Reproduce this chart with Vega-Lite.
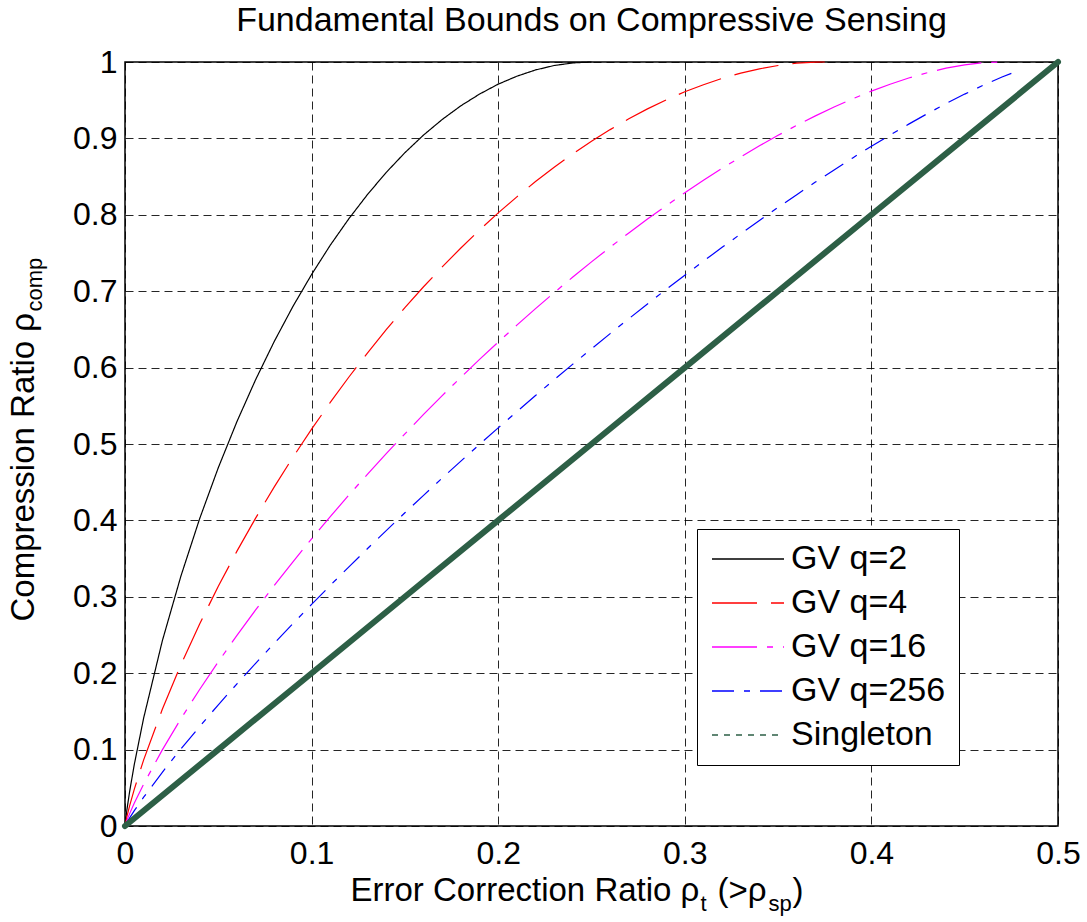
{
  "$schema": "https://vega.github.io/schema/vega-lite/v6.json",
  "width": 933,
  "height": 764,
  "autosize": {"type": "none"},
  "padding": {"left": 125, "top": 62, "right": 29, "bottom": 96},
  "background": "white",
  "title": {"text": "Fundamental Bounds on Compressive Sensing", "frame": "group", "anchor": "middle", "offset": -26, "baseline": "bottom", "fontSize": 34, "fontWeight": "normal", "font": "Liberation Sans", "color": "black"},
  "config": {
    "view": {"stroke": "black", "strokeWidth": 1.5},
    "font": "Liberation Sans",
    "axis": {"domain": false, "ticks": false, "labelFlush": false, "labelFont": "Liberation Sans", "labelFontSize": 32, "labelColor": "black", "titleFont": "Liberation Sans", "titleFontWeight": "normal", "titleColor": "black", "gridColor": "black", "gridDash": [8, 5], "gridOpacity": 0.85, "gridWidth": 1},
    "legend": {"orient": "none", "legendX": 572, "legendY": 467, "title": null, "symbolType": "M-3,0H3", "symbolSize": 576, "symbolOffset": 21, "labelOffset": 26, "symbolStrokeWidth": 1.5, "labelFontSize": 34, "labelFont": "Liberation Sans", "labelColor": "black", "labelLimit": 300, "padding": 13, "rowPadding": 10, "strokeColor": "black", "fillColor": "white", "cornerRadius": 0}
  },
  "datasets": {
    "gv": [
      {"series": "GV q=2", "x": 0, "y": 0}, {"series": "GV q=2", "x": 0.001, "y": 0.0208}, {"series": "GV q=2", "x": 0.0025, "y": 0.0454}, {"series": "GV q=2", "x": 0.005, "y": 0.0808}, {"series": "GV q=2", "x": 0.01, "y": 0.1414}, {"series": "GV q=2", "x": 0.02, "y": 0.2423}, {"series": "GV q=2", "x": 0.03, "y": 0.3274}, {"series": "GV q=2", "x": 0.04, "y": 0.4022}, {"series": "GV q=2", "x": 0.05, "y": 0.469}, {"series": "GV q=2", "x": 0.06, "y": 0.5294}, {"series": "GV q=2", "x": 0.07, "y": 0.5842}, {"series": "GV q=2", "x": 0.08, "y": 0.6343}, {"series": "GV q=2", "x": 0.09, "y": 0.6801}, {"series": "GV q=2", "x": 0.1, "y": 0.7219}, {"series": "GV q=2", "x": 0.11, "y": 0.7602}, {"series": "GV q=2", "x": 0.12, "y": 0.795}, {"series": "GV q=2", "x": 0.13, "y": 0.8267}, {"series": "GV q=2", "x": 0.14, "y": 0.8555}, {"series": "GV q=2", "x": 0.15, "y": 0.8813}, {"series": "GV q=2", "x": 0.16, "y": 0.9044}, {"series": "GV q=2", "x": 0.17, "y": 0.9248}, {"series": "GV q=2", "x": 0.18, "y": 0.9427}, {"series": "GV q=2", "x": 0.19, "y": 0.958}, {"series": "GV q=2", "x": 0.2, "y": 0.971}, {"series": "GV q=2", "x": 0.21, "y": 0.9814}, {"series": "GV q=2", "x": 0.22, "y": 0.9896}, {"series": "GV q=2", "x": 0.23, "y": 0.9954}, {"series": "GV q=2", "x": 0.24, "y": 0.9988}, {"series": "GV q=2", "x": 0.25, "y": 1.0},
      {"series": "GV q=4", "x": 0, "y": 0}, {"series": "GV q=4", "x": 0.001, "y": 0.012}, {"series": "GV q=4", "x": 0.0025, "y": 0.0267}, {"series": "GV q=4", "x": 0.005, "y": 0.0483}, {"series": "GV q=4", "x": 0.01, "y": 0.0866}, {"series": "GV q=4", "x": 0.02, "y": 0.1528}, {"series": "GV q=4", "x": 0.03, "y": 0.2113}, {"series": "GV q=4", "x": 0.04, "y": 0.2645}, {"series": "GV q=4", "x": 0.05, "y": 0.3137}, {"series": "GV q=4", "x": 0.06, "y": 0.3598}, {"series": "GV q=4", "x": 0.07, "y": 0.403}, {"series": "GV q=4", "x": 0.08, "y": 0.4439}, {"series": "GV q=4", "x": 0.09, "y": 0.4827}, {"series": "GV q=4", "x": 0.1, "y": 0.5194}, {"series": "GV q=4", "x": 0.11, "y": 0.5544}, {"series": "GV q=4", "x": 0.12, "y": 0.5877}, {"series": "GV q=4", "x": 0.13, "y": 0.6194}, {"series": "GV q=4", "x": 0.14, "y": 0.6496}, {"series": "GV q=4", "x": 0.15, "y": 0.6784}, {"series": "GV q=4", "x": 0.16, "y": 0.7058}, {"series": "GV q=4", "x": 0.17, "y": 0.7318}, {"series": "GV q=4", "x": 0.18, "y": 0.7566}, {"series": "GV q=4", "x": 0.19, "y": 0.7801}, {"series": "GV q=4", "x": 0.2, "y": 0.8025}, {"series": "GV q=4", "x": 0.21, "y": 0.8235}, {"series": "GV q=4", "x": 0.22, "y": 0.8435}, {"series": "GV q=4", "x": 0.23, "y": 0.8622}, {"series": "GV q=4", "x": 0.24, "y": 0.8798}, {"series": "GV q=4", "x": 0.25, "y": 0.8962}, {"series": "GV q=4", "x": 0.26, "y": 0.9115}, {"series": "GV q=4", "x": 0.27, "y": 0.9256}, {"series": "GV q=4", "x": 0.28, "y": 0.9386}, {"series": "GV q=4", "x": 0.29, "y": 0.9503}, {"series": "GV q=4", "x": 0.3, "y": 0.961}, {"series": "GV q=4", "x": 0.31, "y": 0.9703}, {"series": "GV q=4", "x": 0.32, "y": 0.9785}, {"series": "GV q=4", "x": 0.33, "y": 0.9855}, {"series": "GV q=4", "x": 0.34, "y": 0.9911}, {"series": "GV q=4", "x": 0.35, "y": 0.9954}, {"series": "GV q=4", "x": 0.36, "y": 0.9984}, {"series": "GV q=4", "x": 0.37, "y": 0.9998}, {"series": "GV q=4", "x": 0.375, "y": 1.0},
      {"series": "GV q=16", "x": 0, "y": 0}, {"series": "GV q=16", "x": 0.001, "y": 0.0072}, {"series": "GV q=16", "x": 0.0025, "y": 0.0162}, {"series": "GV q=16", "x": 0.005, "y": 0.03}, {"series": "GV q=16", "x": 0.01, "y": 0.0549}, {"series": "GV q=16", "x": 0.02, "y": 0.0996}, {"series": "GV q=16", "x": 0.03, "y": 0.1405}, {"series": "GV q=16", "x": 0.04, "y": 0.1787}, {"series": "GV q=16", "x": 0.05, "y": 0.2149}, {"series": "GV q=16", "x": 0.06, "y": 0.2496}, {"series": "GV q=16", "x": 0.07, "y": 0.2828}, {"series": "GV q=16", "x": 0.08, "y": 0.3149}, {"series": "GV q=16", "x": 0.09, "y": 0.3458}, {"series": "GV q=16", "x": 0.1, "y": 0.3758}, {"series": "GV q=16", "x": 0.11, "y": 0.4049}, {"series": "GV q=16", "x": 0.12, "y": 0.4332}, {"series": "GV q=16", "x": 0.13, "y": 0.4606}, {"series": "GV q=16", "x": 0.14, "y": 0.4874}, {"series": "GV q=16", "x": 0.15, "y": 0.5133}, {"series": "GV q=16", "x": 0.16, "y": 0.5387}, {"series": "GV q=16", "x": 0.17, "y": 0.5633}, {"series": "GV q=16", "x": 0.18, "y": 0.5873}, {"series": "GV q=16", "x": 0.19, "y": 0.6107}, {"series": "GV q=16", "x": 0.2, "y": 0.6334}, {"series": "GV q=16", "x": 0.21, "y": 0.6556}, {"series": "GV q=16", "x": 0.22, "y": 0.6772}, {"series": "GV q=16", "x": 0.23, "y": 0.6981}, {"series": "GV q=16", "x": 0.24, "y": 0.7185}, {"series": "GV q=16", "x": 0.25, "y": 0.7384}, {"series": "GV q=16", "x": 0.26, "y": 0.7576}, {"series": "GV q=16", "x": 0.27, "y": 0.7763}, {"series": "GV q=16", "x": 0.28, "y": 0.7944}, {"series": "GV q=16", "x": 0.29, "y": 0.8119}, {"series": "GV q=16", "x": 0.3, "y": 0.8288}, {"series": "GV q=16", "x": 0.31, "y": 0.8451}, {"series": "GV q=16", "x": 0.32, "y": 0.8608}, {"series": "GV q=16", "x": 0.33, "y": 0.8758}, {"series": "GV q=16", "x": 0.34, "y": 0.8903}, {"series": "GV q=16", "x": 0.35, "y": 0.904}, {"series": "GV q=16", "x": 0.36, "y": 0.9171}, {"series": "GV q=16", "x": 0.37, "y": 0.9295}, {"series": "GV q=16", "x": 0.38, "y": 0.9411}, {"series": "GV q=16", "x": 0.39, "y": 0.9519}, {"series": "GV q=16", "x": 0.4, "y": 0.9619}, {"series": "GV q=16", "x": 0.41, "y": 0.9709}, {"series": "GV q=16", "x": 0.42, "y": 0.979}, {"series": "GV q=16", "x": 0.43, "y": 0.986}, {"series": "GV q=16", "x": 0.44, "y": 0.9919}, {"series": "GV q=16", "x": 0.45, "y": 0.9963}, {"series": "GV q=16", "x": 0.46, "y": 0.9991}, {"series": "GV q=16", "x": 0.46875, "y": 1.0},
      {"series": "GV q=256", "x": 0, "y": 0}, {"series": "GV q=256", "x": 0.001, "y": 0.0046}, {"series": "GV q=256", "x": 0.0025, "y": 0.0107}, {"series": "GV q=256", "x": 0.005, "y": 0.0201}, {"series": "GV q=256", "x": 0.01, "y": 0.0377}, {"series": "GV q=256", "x": 0.02, "y": 0.0703}, {"series": "GV q=256", "x": 0.03, "y": 0.1009}, {"series": "GV q=256", "x": 0.04, "y": 0.1302}, {"series": "GV q=256", "x": 0.05, "y": 0.1586}, {"series": "GV q=256", "x": 0.06, "y": 0.1861}, {"series": "GV q=256", "x": 0.07, "y": 0.2129}, {"series": "GV q=256", "x": 0.08, "y": 0.2392}, {"series": "GV q=256", "x": 0.09, "y": 0.2649}, {"series": "GV q=256", "x": 0.1, "y": 0.2901}, {"series": "GV q=256", "x": 0.11, "y": 0.3149}, {"series": "GV q=256", "x": 0.12, "y": 0.3392}, {"series": "GV q=256", "x": 0.13, "y": 0.3632}, {"series": "GV q=256", "x": 0.14, "y": 0.3867}, {"series": "GV q=256", "x": 0.15, "y": 0.41}, {"series": "GV q=256", "x": 0.16, "y": 0.4328}, {"series": "GV q=256", "x": 0.17, "y": 0.4554}, {"series": "GV q=256", "x": 0.18, "y": 0.4776}, {"series": "GV q=256", "x": 0.19, "y": 0.4995}, {"series": "GV q=256", "x": 0.2, "y": 0.5211}, {"series": "GV q=256", "x": 0.21, "y": 0.5424}, {"series": "GV q=256", "x": 0.22, "y": 0.5634}, {"series": "GV q=256", "x": 0.23, "y": 0.5841}, {"series": "GV q=256", "x": 0.24, "y": 0.6045}, {"series": "GV q=256", "x": 0.25, "y": 0.6246}, {"series": "GV q=256", "x": 0.26, "y": 0.6445}, {"series": "GV q=256", "x": 0.27, "y": 0.664}, {"series": "GV q=256", "x": 0.28, "y": 0.6833}, {"series": "GV q=256", "x": 0.29, "y": 0.7023}, {"series": "GV q=256", "x": 0.3, "y": 0.721}, {"series": "GV q=256", "x": 0.31, "y": 0.7393}, {"series": "GV q=256", "x": 0.32, "y": 0.7574}, {"series": "GV q=256", "x": 0.33, "y": 0.7751}, {"series": "GV q=256", "x": 0.34, "y": 0.7926}, {"series": "GV q=256", "x": 0.35, "y": 0.8097}, {"series": "GV q=256", "x": 0.36, "y": 0.8264}, {"series": "GV q=256", "x": 0.37, "y": 0.8428}, {"series": "GV q=256", "x": 0.38, "y": 0.8588}, {"series": "GV q=256", "x": 0.39, "y": 0.8745}, {"series": "GV q=256", "x": 0.4, "y": 0.8897}, {"series": "GV q=256", "x": 0.41, "y": 0.9044}, {"series": "GV q=256", "x": 0.42, "y": 0.9187}, {"series": "GV q=256", "x": 0.43, "y": 0.9324}, {"series": "GV q=256", "x": 0.44, "y": 0.9456}, {"series": "GV q=256", "x": 0.45, "y": 0.958}, {"series": "GV q=256", "x": 0.46, "y": 0.9696}, {"series": "GV q=256", "x": 0.47, "y": 0.9803}, {"series": "GV q=256", "x": 0.475, "y": 0.9851}
    ],
    "singleton": [
      {"series": "Singleton", "x": 0, "y": 0}, {"series": "Singleton", "x": 0.05, "y": 0.1}, {"series": "Singleton", "x": 0.1, "y": 0.2}, {"series": "Singleton", "x": 0.15, "y": 0.3}, {"series": "Singleton", "x": 0.2, "y": 0.4}, {"series": "Singleton", "x": 0.25, "y": 0.5}, {"series": "Singleton", "x": 0.3, "y": 0.6}, {"series": "Singleton", "x": 0.35, "y": 0.7}, {"series": "Singleton", "x": 0.4, "y": 0.8}, {"series": "Singleton", "x": 0.45, "y": 0.9}, {"series": "Singleton", "x": 0.5, "y": 1.0}
    ]
  },
  "layer": [
    {
      "data": {"name": "gv"},
      "mark": {"type": "line", "strokeWidth": 1.2},
      "encoding": {
        "x": {"field": "x", "type": "quantitative", "scale": {"domain": [0, 0.5], "nice": false, "zero": false},
          "axis": {"orient": "bottom", "values": [0, 0.1, 0.2, 0.3, 0.4, 0.5], "format": "~g", "labelPadding": 12, "grid": true, "title": "Error Correction Ratio ρ", "titleFontSize": 33, "titleX": 225, "titleY": 74, "titleAlign": "left", "titleBaseline": "alphabetic"}},
        "y": {"field": "y", "type": "quantitative", "scale": {"domain": [0, 1], "nice": false, "zero": false},
          "axis": {"orient": "left", "values": [0, 0.1, 0.2, 0.3, 0.4, 0.5, 0.6, 0.7, 0.8, 0.9, 1], "format": "~g", "labelPadding": 8, "grid": true, "title": "Compression Ratio ρ", "titleFontSize": 33, "titleAngle": 270, "titleX": -92, "titleY": 559, "titleAlign": "left", "titleBaseline": "alphabetic"}},
        "color": {"field": "series", "type": "nominal", "scale": {"domain": ["GV q=2", "GV q=4", "GV q=16", "GV q=256", "Singleton"], "range": ["#000000", "#ff0000", "#ff00ff", "#0000ff", "#2d5f46"]}},
        "strokeDash": {"field": "series", "type": "nominal", "scale": {"domain": ["GV q=2", "GV q=4", "GV q=16", "GV q=256", "Singleton"], "range": [[1, 0], [45, 14], [45, 10, 6, 10], [22, 10, 6, 10], [6, 6]]}}
      }
    },
    {
      "data": {"name": "singleton"},
      "mark": {"type": "line", "strokeWidth": 6, "strokeCap": "round", "strokeJoin": "round"},
      "encoding": {
        "x": {"field": "x", "type": "quantitative", "scale": {"domain": [0, 0.5], "nice": false, "zero": false},
          "axis": {"orient": "bottom", "labels": false, "grid": false, "title": "t", "titleFontSize": 22, "titleX": 575, "titleY": 84, "titleAlign": "left", "titleBaseline": "alphabetic"}},
        "y": {"field": "y", "type": "quantitative", "scale": {"domain": [0, 1], "nice": false, "zero": false},
          "axis": {"orient": "left", "labels": false, "grid": false, "title": "comp", "titleFontSize": 22, "titleAngle": 270, "titleX": -84, "titleY": 249, "titleAlign": "left", "titleBaseline": "alphabetic"}},
        "color": {"field": "series", "type": "nominal", "scale": {"domain": ["GV q=2", "GV q=4", "GV q=16", "GV q=256", "Singleton"], "range": ["#000000", "#ff0000", "#ff00ff", "#0000ff", "#2d5f46"]}}
      }
    },
    {
      "data": {"name": "singleton"},
      "mark": {"type": "point", "opacity": 0},
      "encoding": {
        "x": {"field": "x", "type": "quantitative", "scale": {"domain": [0, 0.5], "nice": false, "zero": false},
          "axis": {"orient": "bottom", "labels": false, "grid": false, "title": "(>ρ", "titleFontSize": 33, "titleX": 592, "titleY": 74, "titleAlign": "left", "titleBaseline": "alphabetic"}},
        "y": {"field": "y", "type": "quantitative", "scale": {"domain": [0, 1], "nice": false, "zero": false}, "axis": null}
      }
    },
    {
      "data": {"name": "singleton"},
      "mark": {"type": "point", "opacity": 0},
      "encoding": {
        "x": {"field": "x", "type": "quantitative", "scale": {"domain": [0, 0.5], "nice": false, "zero": false},
          "axis": {"orient": "bottom", "labels": false, "grid": false, "title": "sp", "titleFontSize": 22, "titleX": 643, "titleY": 84, "titleAlign": "left", "titleBaseline": "alphabetic"}},
        "y": {"field": "y", "type": "quantitative", "scale": {"domain": [0, 1], "nice": false, "zero": false}, "axis": null}
      }
    },
    {
      "data": {"name": "singleton"},
      "mark": {"type": "point", "opacity": 0},
      "encoding": {
        "x": {"field": "x", "type": "quantitative", "scale": {"domain": [0, 0.5], "nice": false, "zero": false},
          "axis": {"orient": "bottom", "labels": false, "grid": false, "title": ")", "titleFontSize": 33, "titleX": 667, "titleY": 74, "titleAlign": "left", "titleBaseline": "alphabetic"}},
        "y": {"field": "y", "type": "quantitative", "scale": {"domain": [0, 1], "nice": false, "zero": false}, "axis": null}
      }
    }
  ],
  "resolve": {"axis": {"x": "independent", "y": "independent"}}
}
